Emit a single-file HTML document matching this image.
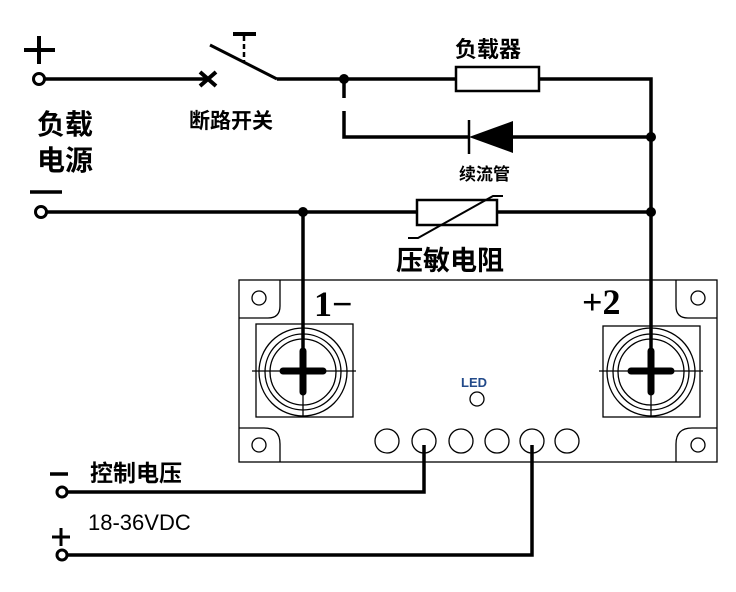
<!DOCTYPE html>
<html><head><meta charset="utf-8"><style>
html,body{margin:0;padding:0;background:#fff;}
svg{display:block}
.cjk{font-family:"Liberation Sans","Noto Sans CJK SC",sans-serif;}
</style></head><body>
<svg width="736" height="592" viewBox="0 0 736 592" xmlns="http://www.w3.org/2000/svg">
<g stroke="#000" fill="none" stroke-width="3.5">
 <circle cx="39" cy="79" r="5.5" stroke-width="3"/>
 <line x1="45" y1="79" x2="208" y2="79"/>
 <path d="M200 72 L216 86 M216 72 L200 86" stroke-width="4"/>
 <line x1="210" y1="45" x2="277" y2="79" stroke-width="3"/>
 <line x1="233" y1="34" x2="256" y2="34" stroke-width="4"/>
 <line x1="244" y1="36" x2="244" y2="62" stroke-width="2.5" stroke-dasharray="5,3"/>
 <line x1="277" y1="79" x2="455" y2="79"/>
 <rect x="456" y="67" width="83" height="24" stroke-width="2.5"/>
 <polyline points="539,79 651,79 651,375"/>
 <line x1="344" y1="79" x2="344" y2="98"/>
 <polyline points="344,111 344,137 469,137"/>
 <line x1="469" y1="120" x2="469" y2="154" stroke-width="2.5"/>
 <line x1="513" y1="137" x2="651" y2="137"/>
 <circle cx="41" cy="212" r="5.5" stroke-width="3"/>
 <line x1="47" y1="212" x2="651" y2="212"/>
 <line x1="303" y1="212" x2="303" y2="375"/>
 <rect x="417" y="200" width="80" height="25" stroke-width="2.5" fill="#fff"/>
 <polyline points="408,238 418,238 493,196 503,196" stroke-width="2"/>
 <line x1="30" y1="192" x2="62" y2="192"/>
 <path d="M24 50 H55 M39 36 V64" stroke-width="4"/>
</g>
<polygon points="469,137 513,121 513,153" fill="#000"/>
<circle cx="344" cy="79" r="5" fill="#000"/>
<circle cx="651" cy="137" r="5" fill="#000"/>
<circle cx="303" cy="212" r="5" fill="#000"/>
<circle cx="651" cy="212" r="5" fill="#000"/>

<g stroke="#000" fill="none" stroke-width="1.3">
 <rect x="239" y="280" width="478" height="182"/>
 <path d="M280 280 V306 Q280 318 268 318 H239"/>
 <path d="M676 280 V306 Q676 318 688 318 H717"/>
 <path d="M239 428 H264 Q280 428 280 444 V462"/>
 <path d="M717 428 H692 Q676 428 676 444 V462"/>
 <circle cx="259" cy="298" r="7"/><circle cx="698" cy="298" r="7"/>
 <circle cx="259" cy="445" r="7"/><circle cx="698" cy="445" r="7"/>
 <rect x="256" y="324" width="97" height="93"/>
 <rect x="603" y="326" width="97" height="91"/>
 <circle cx="303" cy="372" r="44"/><circle cx="303" cy="372" r="38"/><circle cx="303" cy="372" r="33"/>
 <circle cx="651" cy="372" r="44"/><circle cx="651" cy="372" r="38"/><circle cx="651" cy="372" r="33"/>
 <line x1="252" y1="371" x2="356" y2="371"/><line x1="303" y1="330" x2="303" y2="417"/>
 <line x1="599" y1="371" x2="703" y2="371"/><line x1="651" y1="330" x2="651" y2="417"/>
 <circle cx="477" cy="399" r="7"/>
 <circle cx="387" cy="441" r="12"/><circle cx="424" cy="441" r="12"/><circle cx="461" cy="441" r="12"/>
 <circle cx="497" cy="441" r="12"/><circle cx="532" cy="441" r="12"/><circle cx="567" cy="441" r="12"/>
</g>
<g stroke="#000" stroke-width="7" stroke-linecap="round">
 <line x1="283" y1="371" x2="323" y2="371"/><line x1="303" y1="351" x2="303" y2="392"/>
 <line x1="631" y1="371" x2="671" y2="371"/><line x1="651" y1="351" x2="651" y2="392"/>
</g>
<g stroke="#000" fill="none" stroke-width="3.5">
 <polyline points="424,445 424,492 68,492"/>
 <polyline points="532,445 532,555 68,555"/>
 <circle cx="62" cy="492" r="5" stroke-width="3"/>
 <circle cx="62" cy="555" r="5" stroke-width="3"/>
 <line x1="50" y1="474" x2="68" y2="474"/>
 <path d="M52 537 H70 M61 528 V546" stroke-width="3"/>
</g>

<g class="cjk" fill="#000">
 <text x="455" y="57" font-size="22" font-weight="bold">负载器</text>
 <text x="189" y="128" font-size="21" font-weight="bold">断路开关</text>
 <text x="37" y="134" font-size="28" font-weight="bold">负载</text>
 <text x="37" y="170" font-size="28" font-weight="bold">电源</text>
 <text x="459" y="180" font-size="17" font-weight="bold">续流管</text>
 <text x="396" y="270" font-size="27" font-weight="bold">压敏电阻</text>
 <text x="90" y="481" font-size="23" font-weight="bold">控制电压</text>
 <text x="88" y="530" font-size="22" font-family="Liberation Sans, sans-serif">18-36VDC</text>
 <text x="461" y="387" font-size="13" fill="#224a8a" font-weight="bold">LED</text>
 <text x="314" y="316" font-size="36" font-family="Liberation Serif, serif" font-weight="bold">1−</text>
 <text x="582" y="314" font-size="36" font-family="Liberation Serif, serif" font-weight="bold">+2</text>
</g>
</svg>
</body></html>
